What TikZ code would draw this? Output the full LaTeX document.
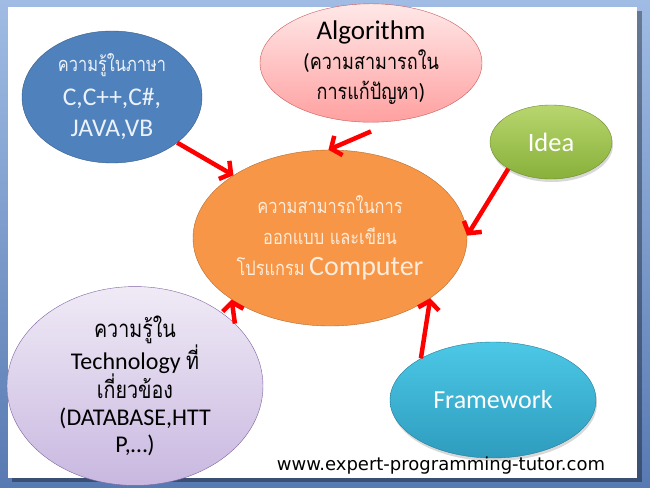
\documentclass[tikz,border=0pt]{standalone}
\usepackage{fontspec}
\setmainfont{Carlito}
\newfontfamily\thaifont[Script=Thai,FakeStretch=0.82]{Loma}
\newfontfamily\urlfont{DejaVu Sans}
\usetikzlibrary{shapes.geometric,arrows.meta,shadows}
\newcommand{\tht}[1]{{\thaifont #1}}

\definecolor{frametop}{RGB}{160,188,228}
\definecolor{framebot}{RGB}{88,122,178}
\definecolor{langfill}{RGB}{79,129,189}
\definecolor{langedge}{RGB}{56,93,138}
\definecolor{langtext}{RGB}{236,242,250}
\definecolor{algotop}{RGB}{255,232,232}
\definecolor{algobot}{RGB}{255,160,160}
\definecolor{algoedge}{RGB}{200,90,88}
\definecolor{corefill}{RGB}{247,150,70}
\definecolor{coreedge}{RGB}{182,109,49}
\definecolor{coretext}{RGB}{253,236,220}
\definecolor{ideatop}{RGB}{184,214,110}
\definecolor{ideabot}{RGB}{136,176,58}
\definecolor{techtop}{RGB}{240,234,246}
\definecolor{techbot}{RGB}{200,184,224}
\definecolor{techedge}{RGB}{128,100,162}
\definecolor{worktop}{RGB}{76,200,230}
\definecolor{workbot}{RGB}{46,156,190}

\begin{document}
\begin{tikzpicture}[x=1pt,y=-1pt]

    \tikzset{
      bubble/.style={
        ellipse,
        draw,
        inner sep=0pt,
        align=center,
      },
      link/.style={
        draw=red,
        line width=4.5pt,
        -{Straight Barb[length=8pt,width=21pt]},
      },
    }

	\useasboundingbox (0,0) rectangle (650,487);
	\shade[top color=frametop,bottom color=framebot] (0,0) rectangle (650,487);
	\fill[black,opacity=0.35] (12,11) rectangle (642,482);
	\fill[white] (8,7) rectangle (637,478);

	\node[bubble,draw=langedge,fill=langfill,text=langtext,minimum width=180pt,minimum height=132pt,font=\fontsize{25.5}{31}\selectfont] (lang) at (112,97) {\tht{\fontsize{20}{31}\selectfont ความรู้ในภาษา}\\[3pt]C,C++,C\#,\\JAVA,VB};
	\node[bubble,draw=algoedge,top color=algotop,bottom color=algobot,minimum width=222pt,minimum height=110pt,font=\fontsize{22}{30}\selectfont] (algo) at (371,63) {{\fontsize{27}{30}\selectfont Algorithm}\\(\tht{ความสามารถใน}\\\tht{การแก้ปัญหา})};
	\node[bubble,draw=ideabot!80!black,top color=ideatop,bottom color=ideabot,text=white,minimum width=122pt,minimum height=74pt,font=\fontsize{26.5}{28}\selectfont,drop shadow={opacity=0.3,shadow xshift=1pt,shadow yshift=-3pt}] (idea) at (551,142) {Idea};
	\node[bubble,draw=coreedge,fill=corefill,text=coretext,minimum width=274pt,minimum height=176pt,font=\fontsize{20}{31}\selectfont] (core) at (330,238) {\tht{ความสามารถในการ}\\\tht{ออกแบบ และเขียน}\\\tht{โปรแกรม} {\fontsize{28}{31}\selectfont Computer}};
	\node[bubble,draw=techedge,top color=techtop,bottom color=techbot,minimum width=256pt,minimum height=158pt,font=\fontsize{24}{27}\selectfont] (tech) at (135,386) {\tht{ความรู้ใน}\\Technology \tht{ที่}\\\tht{เกี่ยวข้อง}\\(DATABASE,HTT\\P,\dots)};
	\node[bubble,draw=workbot!80!black,top color=worktop,bottom color=workbot,text=white,minimum width=206pt,minimum height=116pt,font=\fontsize{26}{28}\selectfont,drop shadow={opacity=0.3,shadow xshift=1pt,shadow yshift=-3pt}] (work) at (493,400) {Framework};
	\node[font=\urlfont\fontsize{18}{20}\selectfont] (site) at (441,466) {www.expert-programming-tutor.com};

	\draw[link] (lang.-35) -- (core.147);
	\draw[link] ([yshift=-9pt]algo.south) -- (core.91);
	\draw[link] (idea.-148) -- (core.1);
	\draw[link] (tech.32) -- (core.-148);
	\draw[link] (work.150) -- (core.-31);

\end{tikzpicture}
\end{document}
